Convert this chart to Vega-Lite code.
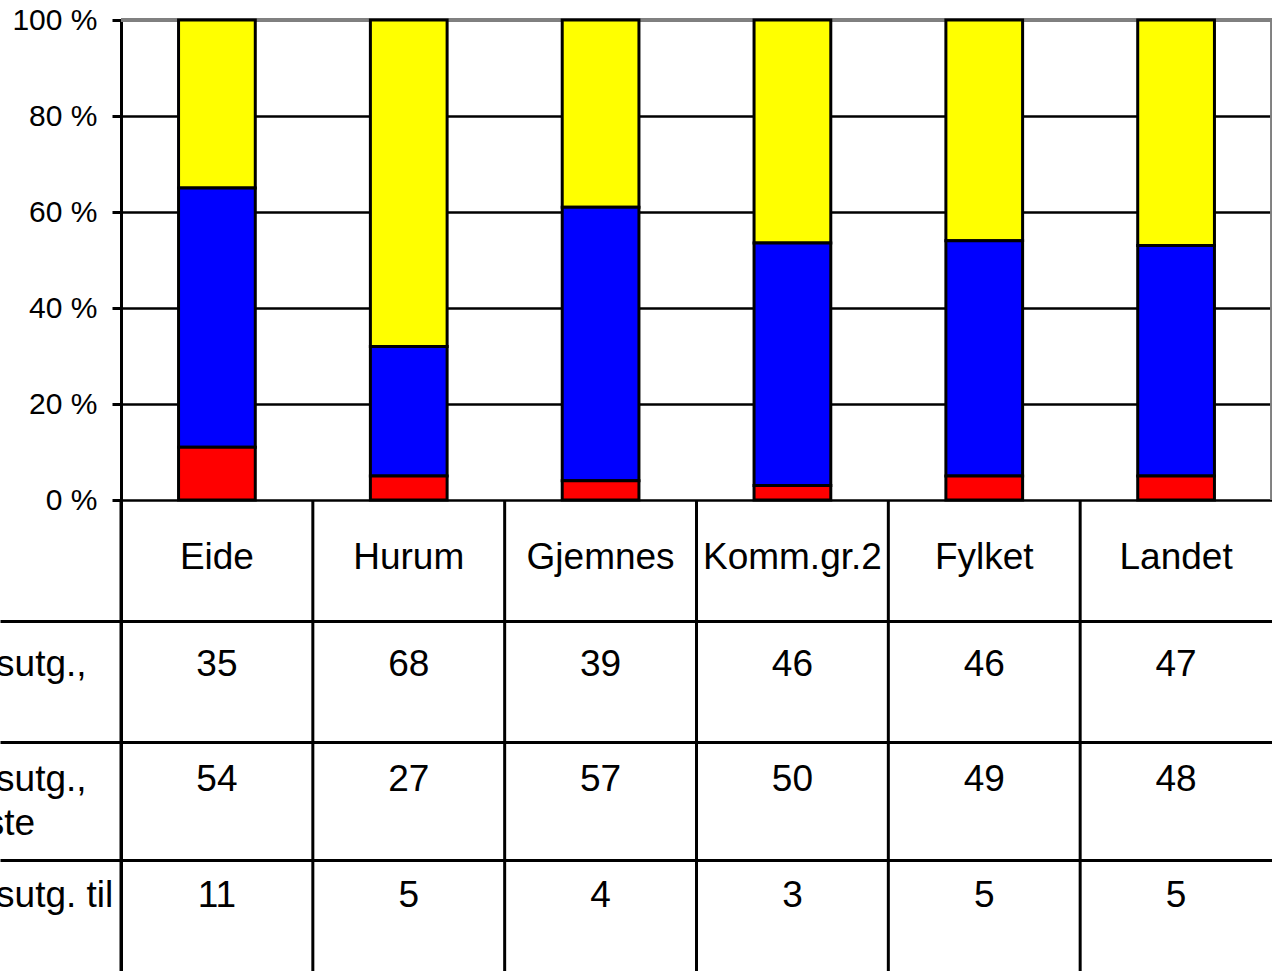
{
  "$schema": "https://vega.github.io/schema/vega-lite/v6.json",
  "width": 1151,
  "height": 951,
  "autosize": "none",
  "padding": {"left": 121, "top": 20, "right": 0, "bottom": 0},
  "background": "white",
  "config": {"view": {"stroke": null}, "font": "Liberation Sans"},
  "datasets": {
    "tabell": [
      {"kat": "Eide", "serie": "institusjon", "verdi": 35},
      {"kat": "Eide", "serie": "hjemmetjeneste", "verdi": 54},
      {"kat": "Eide", "serie": "aktivisering", "verdi": 11},
      {"kat": "Hurum", "serie": "institusjon", "verdi": 68},
      {"kat": "Hurum", "serie": "hjemmetjeneste", "verdi": 27},
      {"kat": "Hurum", "serie": "aktivisering", "verdi": 5},
      {"kat": "Gjemnes", "serie": "institusjon", "verdi": 39},
      {"kat": "Gjemnes", "serie": "hjemmetjeneste", "verdi": 57},
      {"kat": "Gjemnes", "serie": "aktivisering", "verdi": 4},
      {"kat": "Komm.gr.2", "serie": "institusjon", "verdi": 46},
      {"kat": "Komm.gr.2", "serie": "hjemmetjeneste", "verdi": 50},
      {"kat": "Komm.gr.2", "serie": "aktivisering", "verdi": 3},
      {"kat": "Fylket", "serie": "institusjon", "verdi": 46},
      {"kat": "Fylket", "serie": "hjemmetjeneste", "verdi": 49},
      {"kat": "Fylket", "serie": "aktivisering", "verdi": 5},
      {"kat": "Landet", "serie": "institusjon", "verdi": 47},
      {"kat": "Landet", "serie": "hjemmetjeneste", "verdi": 48},
      {"kat": "Landet", "serie": "aktivisering", "verdi": 5}
    ],
    "rader": [
      {"serie": "institusjon", "tekst": "Andel netto driftsutg.,|institusjon"},
      {"serie": "hjemmetjeneste", "tekst": "Andel netto driftsutg.,|til hjemmetjeneste"},
      {"serie": "aktivisering", "tekst": "Andel netto driftsutg. til|aktivisering"}
    ]
  },
  "data": {"name": "tabell"},
  "resolve": {"axis": {"y": "independent"}},
  "layer": [
    {
      "transform": [{"filter": "datum.serie === 'institusjon'"}],
      "mark": {"type": "rule", "color": "black", "strokeWidth": 3},
      "encoding": {
        "x": {"field": "kat", "type": "nominal", "bandPosition": 0, "axis": null,
              "scale": {"domain": ["Eide", "Hurum", "Gjemnes", "Komm.gr.2", "Fylket", "Landet"], "paddingInner": 0, "paddingOuter": 0}},
        "y": {"datum": 0, "type": "quantitative",
              "axis": {"orient": "left", "values": [-0.2521, -0.5042, -0.75], "labels": false, "tickSize": 121, "tickColor": "black", "tickWidth": 3,
                       "grid": true, "gridColor": "black", "gridWidth": 3, "domain": true, "domainColor": "black", "domainWidth": 3, "title": null}},
        "y2": {"datum": -0.98125}
      }
    },
    {
      "mark": {"type": "rule", "color": "#808080", "strokeWidth": 3},
      "encoding": {
        "y": {"datum": 1, "type": "quantitative", "axis": null}
      }
    },
    {
      "transform": [{"filter": "datum.serie === 'institusjon' && datum.kat === 'Landet'"}],
      "mark": {"type": "rule", "color": "#808080", "strokeWidth": 2},
      "encoding": {
        "x": {"field": "kat", "type": "nominal", "bandPosition": 0.995, "axis": null},
        "y": {"datum": 0, "type": "quantitative", "axis": null},
        "y2": {"datum": 1}
      }
    },
    {
      "mark": {"type": "bar", "width": {"band": 0.4}, "stroke": "black", "strokeWidth": 3},
      "encoding": {
        "x": {"field": "kat", "type": "nominal", "axis": null},
        "y": {"field": "verdi", "type": "quantitative", "stack": "normalize",
              "scale": {"domain": [-0.98125, 1], "nice": false, "zero": false},
              "axis": {"orient": "left", "values": [0, 0.2, 0.4, 0.6, 0.8, 1], "labelExpr": "format(datum.value*100, '.0f') + ' %'",
                       "labelFontSize": 30, "labelColor": "black", "labelFont": "Liberation Sans", "labelPadding": 15,
                       "tickSize": 9, "tickColor": "black", "tickWidth": 3, "domain": false,
                       "grid": true, "gridWidth": 2.5, "gridColor": "black",
                       "title": null}},
        "color": {"field": "serie", "type": "nominal", "legend": null,
                  "scale": {"domain": ["aktivisering", "hjemmetjeneste", "institusjon"], "range": ["#FF0000", "#0000FF", "#FFFF00"]}},
        "order": {"field": "serie", "sort": "ascending"}
      }
    },
    {
      "transform": [{"filter": "datum.serie === 'institusjon'"}],
      "mark": {"type": "text", "fontSize": 37, "color": "black", "baseline": "alphabetic", "align": "center"},
      "encoding": {
        "x": {"field": "kat", "type": "nominal", "axis": null},
        "y": {"datum": -0.14375, "type": "quantitative", "axis": null},
        "text": {"field": "kat"}
      }
    },
    {
      "transform": [{"filter": "datum.serie === 'institusjon'"}],
      "mark": {"type": "text", "fontSize": 37, "color": "black", "baseline": "alphabetic", "align": "center"},
      "encoding": {
        "x": {"field": "kat", "type": "nominal", "axis": null},
        "y": {"datum": -0.36667, "type": "quantitative", "axis": null},
        "text": {"field": "verdi"}
      }
    },
    {
      "transform": [{"filter": "datum.serie === 'hjemmetjeneste'"}],
      "mark": {"type": "text", "fontSize": 37, "color": "black", "baseline": "alphabetic", "align": "center"},
      "encoding": {
        "x": {"field": "kat", "type": "nominal", "axis": null},
        "y": {"datum": -0.60625, "type": "quantitative", "axis": null},
        "text": {"field": "verdi"}
      }
    },
    {
      "transform": [{"filter": "datum.serie === 'aktivisering'"}],
      "mark": {"type": "text", "fontSize": 37, "color": "black", "baseline": "alphabetic", "align": "center"},
      "encoding": {
        "x": {"field": "kat", "type": "nominal", "axis": null},
        "y": {"datum": -0.84792, "type": "quantitative", "axis": null},
        "text": {"field": "verdi"}
      }
    },
    {
      "data": {"name": "rader"},
      "transform": [{"filter": "datum.serie === 'institusjon'"}],
      "mark": {"type": "text", "fontSize": 37, "color": "black", "baseline": "alphabetic", "align": "left", "lineBreak": "|", "lineHeight": 44, "dx": -480},
      "encoding": {
        "x": {"datum": "Eide", "type": "nominal"},
        "y": {"datum": -0.36667, "type": "quantitative", "axis": null},
        "text": {"field": "tekst"}
      }
    },
    {
      "data": {"name": "rader"},
      "transform": [{"filter": "datum.serie === 'hjemmetjeneste'"}],
      "mark": {"type": "text", "fontSize": 37, "color": "black", "baseline": "alphabetic", "align": "left", "lineBreak": "|", "lineHeight": 44, "dx": -480},
      "encoding": {
        "x": {"datum": "Eide", "type": "nominal"},
        "y": {"datum": -0.60625, "type": "quantitative", "axis": null},
        "text": {"field": "tekst"}
      }
    },
    {
      "data": {"name": "rader"},
      "transform": [{"filter": "datum.serie === 'aktivisering'"}],
      "mark": {"type": "text", "fontSize": 37, "color": "black", "baseline": "alphabetic", "align": "left", "lineBreak": "|", "lineHeight": 44, "dx": -480},
      "encoding": {
        "x": {"datum": "Eide", "type": "nominal"},
        "y": {"datum": -0.84792, "type": "quantitative", "axis": null},
        "text": {"field": "tekst"}
      }
    }
  ]
}
